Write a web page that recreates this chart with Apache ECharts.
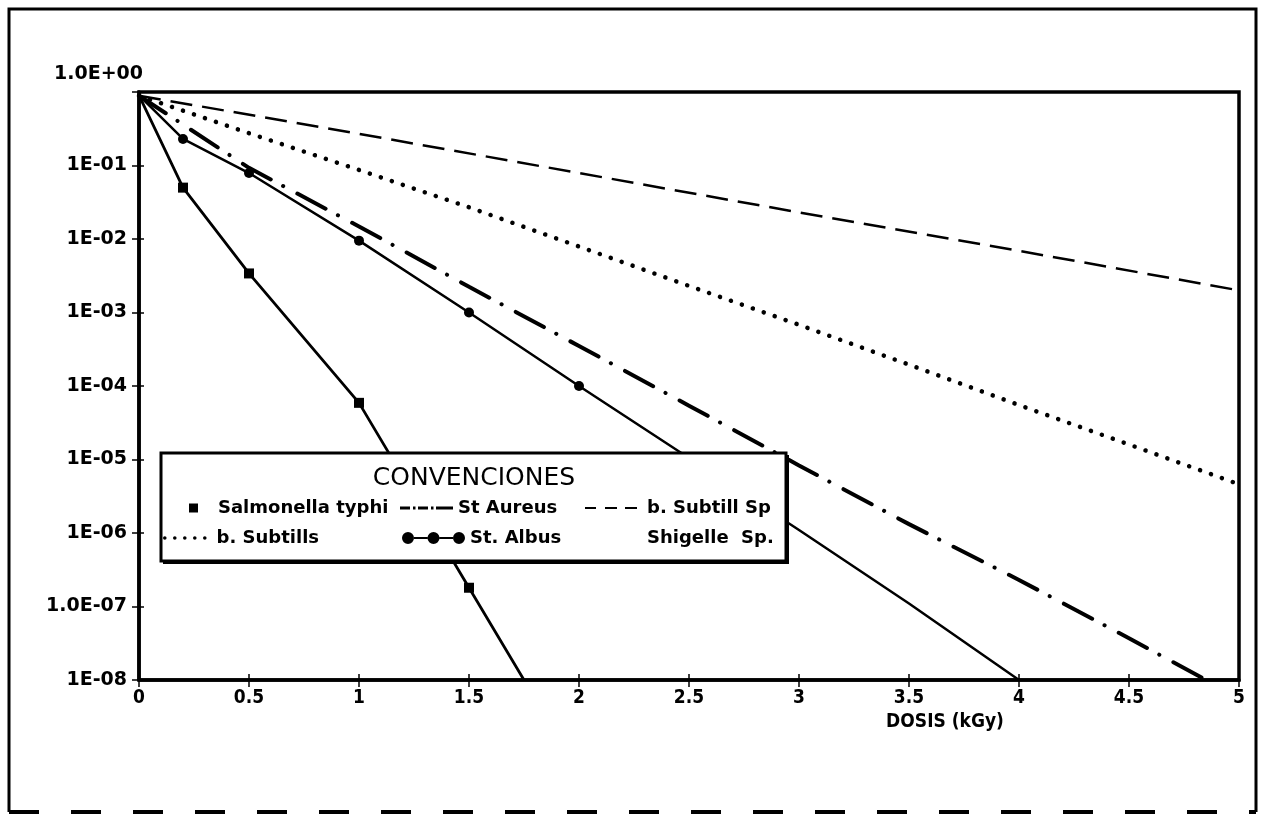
<!DOCTYPE html>
<html>
<head>
<meta charset="utf-8">
<script src="https://cdn.jsdelivr.net/npm/echarts@6/dist/echarts.min.js"></script>
<style>
html,body{margin:0;padding:0;background:#fff;}
#c{width:1263px;height:817px;}
</style>
</head>
<body>
<div id="c"></div>
<script>
// ---- data ----
const yTickLabels = ['1.0E+00','1E-01','1E-02','1E-03','1E-04','1E-05','1E-06','1.0E-07','1E-08'];
const xTickLabels = ['0','0.5','1','1.5','2','2.5','3','3.5','4','4.5','5'];

const seriesNames = ['Salmonella typhi','St Aureus','b. Subtill Sp','b. Subtills','St. Albus','Shigelle  Sp.'];

const doseSalmonella = [0, 0.2, 0.5, 1, 1.5, 1.75];
const valSalmonella  = [0.9, 0.05, 0.0034, 0.000059, 1.8e-7, 1e-8];
const markSalmonella = [false, true, true, true, true, false];

const doseAlbus = [0, 0.2, 0.5, 1, 1.5, 2, 2.5, 3, 3.5, 4];
const valAlbus  = [0.9, 0.23, 0.079, 0.0095, 0.001, 0.0001, 1.05e-5, 1.1e-6, 1.1e-7, 1e-8];
const markAlbus = [false, true, true, true, true, true, false, false, false, false];

const doseAureus = [0, 0.5, 1, 1.5, 2, 2.5, 3, 3.5, 4, 4.5, 4.85];
const valAureus  = [0.89, 0.093, 0.0148, 0.00224, 0.00035, 5.4e-5, 8.3e-6, 1.32e-6, 2.3e-7, 3.7e-8, 1e-8];

const doseSubtills = [0, 0.5, 1, 1.5, 2, 2.5, 3, 3.5, 4, 4.5, 5];
const valSubtills  = [0.89, 0.275, 0.087, 0.027, 0.0079, 0.0023, 0.00068, 0.000195, 5.5e-5, 1.6e-5, 4.6e-6];

const doseSubtillSp = [0, 1, 2, 3, 4, 5];
const valSubtillSp  = [0.89, 0.27, 0.079, 0.023, 0.0069, 0.002];

// ---- chart ----
const pairs = (xs, ys) => xs.map((x, i) => [x, ys[i]]);
const marked = (xs, ys, ms, sym) => xs.map((x, i) => ({ value: [x, ys[i]], symbol: ms[i] ? sym : 'none' }));

const chart = echarts.init(document.getElementById('c'));
const BOLD = 'DejaVu Sans';
const COND = '"DejaVu Sans Condensed", "DejaVu Sans", sans-serif';

const legendText = { color: '#000', fontFamily: BOLD, fontWeight: 'bold', fontSize: 18, lineHeight: 20 };
function leg(name, left, top, extra) {
  return Object.assign({
    data: [name], left: left, top: top, orient: 'horizontal', padding: 0,
    selectedMode: false, z: 10, itemGap: 0,
    textStyle: Object.assign({}, legendText)
  }, extra);
}

// legend key glyphs (shapes only)
const albusIcon = 'path://M0,6a6,6 0 1,0 12,0a6,6 0 1,0 -12,0z M25.5,6a6,6 0 1,0 12,0a6,6 0 1,0 -12,0z M51,6a6,6 0 1,0 12,0a6,6 0 1,0 -12,0z M12,5v2h13.5v-2z M37.5,5v2h13.5v-2z';
const aureusIcon = 'path://M0,0v3h10v-3z M13,0v3h2.5v-3z M18,0v3h10v-3z M31,0v3h2.5v-3z M36,0v3h17v-3z';
const subSpIcon = 'path://M0,0v2h11v-2z M20,0v2h12v-2z M40,0v2h12v-2z';
let dots = '';
for (let k = 0; k < 5; k++) { const cx = 10 * k; dots += 'M' + cx + ',1.8a1.8,1.8 0 1,0 3.6,0a1.8,1.8 0 1,0 -3.6,0z '; }
const subtillsIcon = 'path://' + dots;

const option = {
  animation: false,
  backgroundColor: '#fff',
  grid: { left: 139, right: 24, top: 92, bottom: 137, show: true, borderColor: '#000', borderWidth: 3.5, backgroundColor: 'transparent' },
  xAxis: [{
    type: 'value', min: 0, max: 5, interval: 0.5,
    name: 'DOSIS (kGy)', nameLocation: 'middle', nameGap: 29,
    nameTextStyle: { color: '#000', fontFamily: COND, fontWeight: 'bold', fontSize: 19, padding: [0, 0, 0, 512] },
    axisLine: { show: true, lineStyle: { color: '#000', width: 3.5 } },
    axisTick: { show: true, length: 7, lineStyle: { color: '#000', width: 1.5 } },
    axisLabel: { color: '#000', fontFamily: COND, fontWeight: 'bold', fontSize: 19, margin: 9,
      formatter: (v) => xTickLabels[Math.round(v * 2)] },
    splitLine: { show: false }
  }, {
    type: 'value', min: 0, max: 5, interval: 0.5, position: 'bottom',
    axisLine: { show: false },
    axisTick: { show: true, inside: true, length: 6, lineStyle: { color: '#000', width: 1.5 } },
    axisLabel: { show: false }, splitLine: { show: false }
  }],
  yAxis: [{
    type: 'log', logBase: 10, min: 1e-8, max: 1, interval: 1,
    axisLine: { show: true, lineStyle: { color: '#000', width: 3.5 } },
    axisTick: { show: true, length: 7, lineStyle: { color: '#000', width: 1.5 } },
    axisLabel: { color: '#000', fontFamily: BOLD, fontWeight: 'bold', fontSize: 19, margin: 12,
      formatter: (v) => { const k = -Math.round(Math.log10(v)); return k === 0 ? '' : yTickLabels[k]; } },
    splitLine: { show: false }, minorTick: { show: false }
  }, {
    type: 'log', logBase: 10, min: 1e-8, max: 1, interval: 1, position: 'left',
    axisLine: { show: false },
    axisTick: { show: true, inside: true, length: 5, lineStyle: { color: '#000', width: 1.5 } },
    axisLabel: { show: false }, splitLine: { show: false }
  }],
  legend: [
    leg(seriesNames[0], 189, 498, { icon: 'rect', itemWidth: 9, itemHeight: 9, textStyle: Object.assign({}, legendText, { padding: [0, 0, 0, 15] }) }),
    leg(seriesNames[1], 400, 498, { icon: aureusIcon, itemWidth: 53, itemHeight: 3 }),
    leg(seriesNames[2], 585, 498, { icon: subSpIcon, itemWidth: 52, itemHeight: 2, textStyle: Object.assign({}, legendText, { padding: [0, 0, 0, 5] }) }),
    leg(seriesNames[3], 163, 528, { icon: subtillsIcon, itemWidth: 43.6, itemHeight: 3.6, textStyle: Object.assign({}, legendText, { padding: [0, 0, 0, 5] }) }),
    leg(seriesNames[4], 402, 528, { icon: albusIcon, itemWidth: 63, itemHeight: 12 }),
    leg(seriesNames[5], 641, 528, { icon: 'rect', itemWidth: 1, itemHeight: 1, itemStyle: { opacity: 0 } })
  ],
  graphic: [
    { type: 'polyline', z: 1, silent: true, shape: { points: [[9, 812], [9, 9], [1256, 9], [1256, 812]] }, style: { stroke: '#000', lineWidth: 3, fill: null } },
    { type: 'line', z: 1, silent: true, shape: { x1: 9, y1: 812, x2: 1256, y2: 812 }, style: { stroke: '#000', lineWidth: 4, lineDash: [30, 32] } },
    { type: 'rect', z: 4, silent: true, shape: { x: 163, y: 455, width: 626, height: 109 }, style: { fill: '#000' } },
    { type: 'rect', z: 5, silent: true, shape: { x: 161, y: 453, width: 625, height: 108 },
      style: { fill: '#fff', stroke: '#000', lineWidth: 3 } },
    { type: 'text', z: 11, silent: true, x: 474, y: 478,
      style: { text: 'CONVENCIONES', fill: '#000', font: '25px "DejaVu Sans"', textAlign: 'center', textVerticalAlign: 'middle' } },
    { type: 'text', z: 11, silent: true, x: 143, y: 74,
      style: { text: yTickLabels[0], fill: '#000', font: 'bold 19px "DejaVu Sans"', textAlign: 'right', textVerticalAlign: 'middle' } }
  ],
  series: [
    { name: seriesNames[0], type: 'line', data: marked(doseSalmonella, valSalmonella, markSalmonella, 'rect'),
      symbolSize: 10, showSymbol: true, color: '#000', itemStyle: { color: '#000' },
      lineStyle: { color: '#000', width: 2.8 }, z: 2 },
    { name: seriesNames[1], type: 'line', data: pairs(doseAureus, valAureus), symbol: 'none', color: '#000',
      lineStyle: { color: '#000', width: 4, type: [32, 14, 0.1, 16], cap: 'round' }, z: 2 },
    { name: seriesNames[2], type: 'line', data: pairs(doseSubtillSp, valSubtillSp), symbol: 'none', color: '#000',
      lineStyle: { color: '#000', width: 2.5, type: [22, 10] }, z: 2 },
    { name: seriesNames[3], type: 'line', data: pairs(doseSubtills, valSubtills), symbol: 'none', color: '#000',
      lineStyle: { color: '#000', width: 4.5, type: [0.1, 11.5], cap: 'round' }, z: 2 },
    { name: seriesNames[4], type: 'line', data: marked(doseAlbus, valAlbus, markAlbus, 'circle'),
      symbolSize: 10, showSymbol: true, color: '#000', itemStyle: { color: '#000' },
      lineStyle: { color: '#000', width: 2.5 }, z: 2 },
    { name: seriesNames[5], type: 'line', data: [], symbol: 'none', color: '#000' }
  ]
};
chart.setOption(option);
</script>
</body>
</html>
